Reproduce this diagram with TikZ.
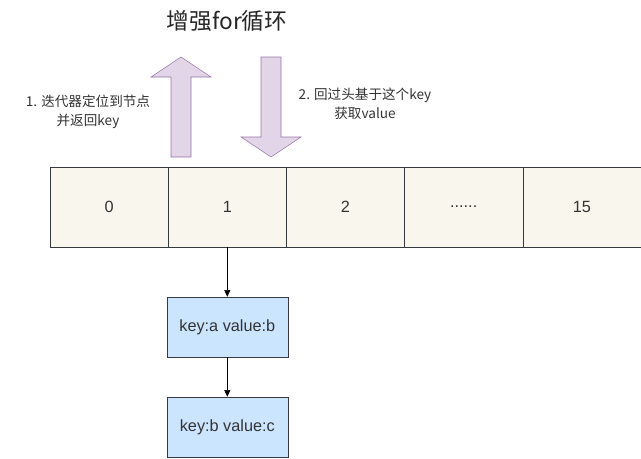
\documentclass[tikz,border=0pt]{standalone}
\usepackage{fontspec}
\setmainfont{Liberation Sans}
\newfontfamily\cjk{Noto Sans CJK SC}
\usetikzlibrary{arrows.meta}
\definecolor{cellfill}{HTML}{F9F7ED}
\definecolor{kvfill}{HTML}{CCE5FF}
\definecolor{edge}{HTML}{36393D}
\definecolor{bigfill}{HTML}{E1D5E7}
\definecolor{bigedge}{HTML}{9673A6}
\definecolor{txt}{HTML}{333333}
\begin{document}
\begin{tikzpicture}[x=0.75pt,y=-0.75pt,font=\fontsize{12.2pt}{14pt}\selectfont,
		cell/.style={draw=edge, fill=cellfill, text=txt, minimum width=88.65pt, minimum height=60pt, inner sep=0pt},
		kv/.style={draw=edge, fill=kvfill, text=txt, minimum width=90.75pt, minimum height=45pt, inner sep=0pt},
		bigarrow/.style={draw=bigedge, fill=bigfill},
		link/.style={-{Triangle[length=5pt,width=4.5pt]}, black}]
		\useasboundingbox (0,0) rectangle (641,458);
		\node[font=\cjk\fontsize{17pt}{20pt}\selectfont, text=black!85] (title) at (227,21) {增强for循环};
		
		\node[cell] (c0) at (109.1,207) {0};
		\node[cell] (c1) at (227.3,207) {1};
		\node[cell] (c2) at (345.5,207) {2};
		\node[cell] (c3) at (463.7,207) {......};
		\node[cell] (c4) at (581.9,207) {15};
		
		\node[kv] (kv1) at (227.3,327) {key:a value:b};
		\node[kv] (kv2) at (227.3,427) {key:b value:c};
		
		\draw[link] (c1.south) -- (kv1.north);
		\draw[link] (kv1.south) -- (kv2.north);
		
		% iterator arrows
		\draw[bigarrow] (171,157) -- (171,77) -- (151,77) -- (181,57) -- (211,77) -- (191,77) -- (191,157) -- cycle;
		\draw[bigarrow] (261,57) -- (281,57) -- (281,137) -- (301,137) -- (271,157) -- (241,137) -- (261,137) -- cycle;
		
		\node[font=\cjk\fontsize{10.2pt}{14pt}\selectfont, align=center, text=txt] (step1) at (88,112) {1. 迭代器定位到节点\\并返回key};
		\node[font=\cjk\fontsize{10.2pt}{14pt}\selectfont, align=center, text=txt] (step2) at (365,104) {2. 回过头基于这个key\\获取value};
	\end{tikzpicture}
\end{document}
